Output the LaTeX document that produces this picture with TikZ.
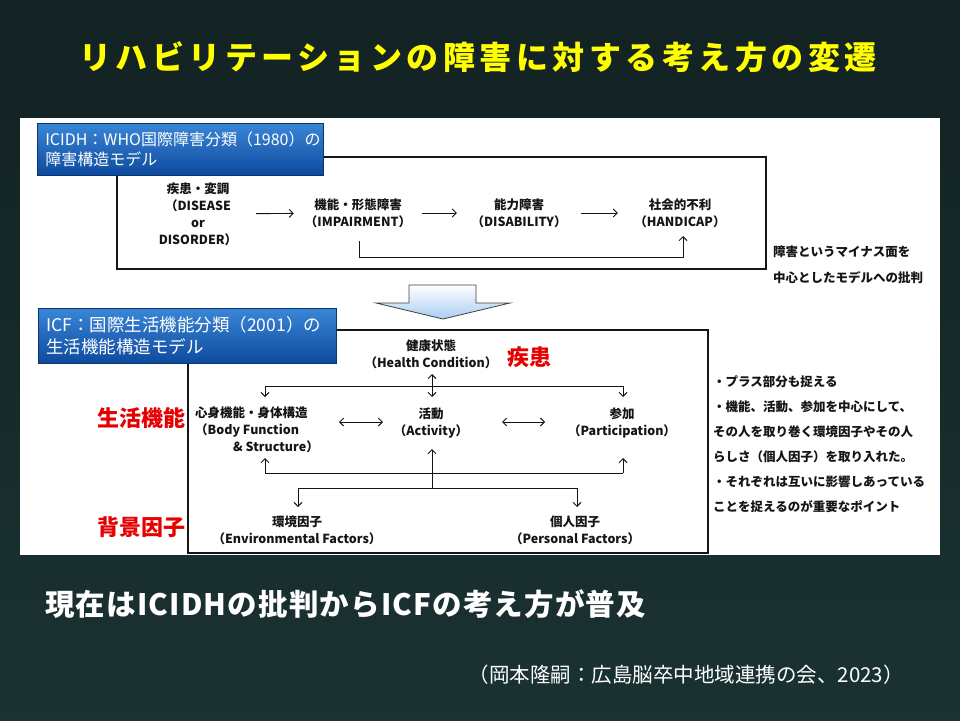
\documentclass[tikz,border=0pt]{standalone}
\usepackage{fontspec}
\setmainfont{Noto Sans CJK JP}
\usetikzlibrary{arrows.meta}
\definecolor{bgtop}{HTML}{0F1A1A}
\definecolor{bglight}{HTML}{1C3434}
\definecolor{bgbot}{HTML}{132222}
\definecolor{txt}{HTML}{151515}
\definecolor{lbltop}{HTML}{3A86D6}
\definecolor{lblbot}{HTML}{0E4A9E}
\definecolor{arrblue}{HTML}{A9CDF2}
\definecolor{redlab}{HTML}{E60000}
\definecolor{titleyel}{HTML}{FFFF00}
\pgfdeclareverticalshading{bgshade}{100bp}{color(0bp)=(bgbot); color(18bp)=(bglight); color(100bp)=(bgtop)}
\tikzset{
  dtext/.style={font=\bfseries\fontsize{12.5}{17}\selectfont, text=txt, align=center, inner sep=0pt},
  sidetext/.style={font=\bfseries\fontsize{12.5}{25}\selectfont, text=txt, align=left, inner sep=0pt},
  arr/.style={-{Straight Barb[length=4pt,width=8pt]}, line width=0.9pt, draw=txt},
  dbl/.style={{Straight Barb[length=4pt,width=8pt]}-{Straight Barb[length=4pt,width=8pt]}, line width=0.9pt, draw=txt},
  plain/.style={line width=0.9pt, draw=txt},
  frame/.style={line width=1.3pt, draw=txt},
  lblbox/.style={top color=lbltop, bottom color=lblbot, draw=lblbot!70!black, line width=0.5pt,
     text=white, align=left, anchor=north west, inner xsep=8pt, inner ysep=0pt},
  redlbl/.style={text=redlab, font=\bfseries\fontsize{22}{22}\selectfont, inner sep=0pt},
}
\begin{document}
\begin{tikzpicture}[x=1pt,y=-1pt]
\useasboundingbox (0,0) rectangle (960,720);
\shade[shading=bgshade] (0,0) rectangle (960,720);
\fill[white] (20,118) rectangle (940,555);

% title
\node[text=titleyel, font=\bfseries\fontsize{32}{32}\selectfont\addfontfeatures{LetterSpace=14}, inner sep=0pt] (title) at (478,57) {リハビリテーションの障害に対する考え方の変遷};

% ICIDH frame and label
\draw[frame] (117,157) rectangle (766,269);
\node[lblbox, minimum width=286pt, minimum height=52pt, text width=270pt, font=\fontsize{16}{20}\selectfont] (icidhlbl) at (37,123) {ICIDH：WHO国際障害分類（1980）の\\障害構造モデル};

\node[dtext, minimum width=116pt] (dis) at (198,214) {疾患・変調\\（DISEASE\\or\\DISORDER）};
\node[dtext, minimum width=128pt] (imp) at (358,213) {機能・形態障害\\（IMPAIRMENT）};
\node[dtext, minimum width=124pt] (dsb) at (519,213) {能力障害\\（DISABILITY）};
\node[dtext, minimum width=124pt] (hcp) at (680,213) {社会的不利\\（HANDICAP）};
\draw[arr] (dis) -- (imp);
\draw[arr] (imp) -- (dsb);
\draw[arr] (dsb) -- (hcp);
\coordinate (bpS) at (359,241);
\coordinate (bpE) at (683,236);
\draw[arr] (bpS) -- ++(0,16) -| (bpE);

\node[sidetext, font=\bfseries\fontsize{12.5}{26}\selectfont, anchor=west] (crit) at (773,265) {障害というマイナス面を\\中心としたモデルへの批判};

% big arrow
\shadedraw[top color=white, bottom color=arrblue, draw=black!75, line width=0.8pt]
  (409,285) -- (476,285) -- (476,303) -- (510,303) -- (443,319) -- (376,303) -- (409,303) -- cycle;

% ICF frame and label
\draw[frame] (188,330) rectangle (708,553);
\node[lblbox, minimum width=298pt, minimum height=55pt, text width=282pt, font=\fontsize{17.5}{22}\selectfont] (icflbl) at (38,308) {ICF：国際生活機能分類（2001）の\\生活機能構造モデル};

\node[dtext] (hc) at (431,354) {健康状態\\（Health Condition）};
\node[dtext, align=left, anchor=west] (body) at (195,430) {心身機能・身体構造\\（Body Function\\\hspace*{38pt}\&~Structure）};
\node[dtext] (act) at (431,423) {活動\\（Activity）};
\node[dtext] (part) at (622,423) {参加\\（Participation）};
\node[dtext] (env) at (297,530) {環境因子\\（Environmental Factors）};
\node[dtext] (pers) at (575,530) {個人因子\\（Personal Factors）};

\node[redlbl, anchor=west] (shikkan) at (507,357) {疾患};
\node[redlbl, anchor=east] (seikatsu) at (186,418) {生活機能};
\node[redlbl, anchor=east] (haikei) at (186,527) {背景因子};

% ICF connectors
\coordinate (hcOut) at (432,374);
\coordinate (actIn) at (432,397);
\draw[dbl] (hcOut) -- (actIn);
\coordinate (tbL) at (265,386);
\coordinate (tbR) at (623,386);
\coordinate (bodyTop) at (265,397);
\coordinate (partTop) at (623,397);
\draw[arr] (tbL) -- (bodyTop);
\draw[arr] (tbR) -- (partTop);
\draw[plain] (tbL) -- (tbR);

\coordinate (ba1) at (339,422); \coordinate (ba2) at (383,422);
\coordinate (ap1) at (502,422); \coordinate (ap2) at (545,422);
\draw[dbl] (ba1) -- (ba2);
\draw[dbl] (ap1) -- (ap2);

\coordinate (bbL) at (265,473);
\coordinate (bbR) at (623,473);
\coordinate (bodyBot) at (265,458);
\coordinate (partBot) at (623,458);
\draw[plain] (bbL) -- (bbR);
\draw[arr] (bbL) -- (bodyBot);
\draw[arr] (bbR) -- (partBot);

\coordinate (ctr) at (432,488);
\coordinate (actBot) at (432,449);
\draw[arr] (ctr) -- (actBot);
\coordinate (lbL) at (298,488);
\coordinate (lbR) at (577,488);
\coordinate (envTop) at (298,507);
\coordinate (persTop) at (577,507);
\draw[plain] (lbL) -- (lbR);
\draw[arr] (lbL) -- (envTop);
\draw[arr] (lbR) -- (persTop);

\node[sidetext, anchor=west] (icfnote) at (713,444.5) {・プラス部分も捉える\\・機能、活動、参加を中心にして、\\その人を取り巻く環境因子やその人\\らしさ（個人因子）を取り入れた。\\・それぞれは互いに影響しあっている\\ことを捉えるのが重要なポイント};

% bottom texts
\node[text=white, font=\bfseries\fontsize{29.5}{29.5}\selectfont\addfontfeatures{LetterSpace=4}, anchor=west, inner sep=0pt] (summary) at (45,604) {現在はICIDHの批判からICFの考え方が普及};
\node[text=white, font=\fontsize{20.5}{20.5}\selectfont, anchor=east, inner sep=0pt] (cite) at (904,675) {（岡本隆嗣：広島脳卒中地域連携の会、2023）};
\end{tikzpicture}
\end{document}
